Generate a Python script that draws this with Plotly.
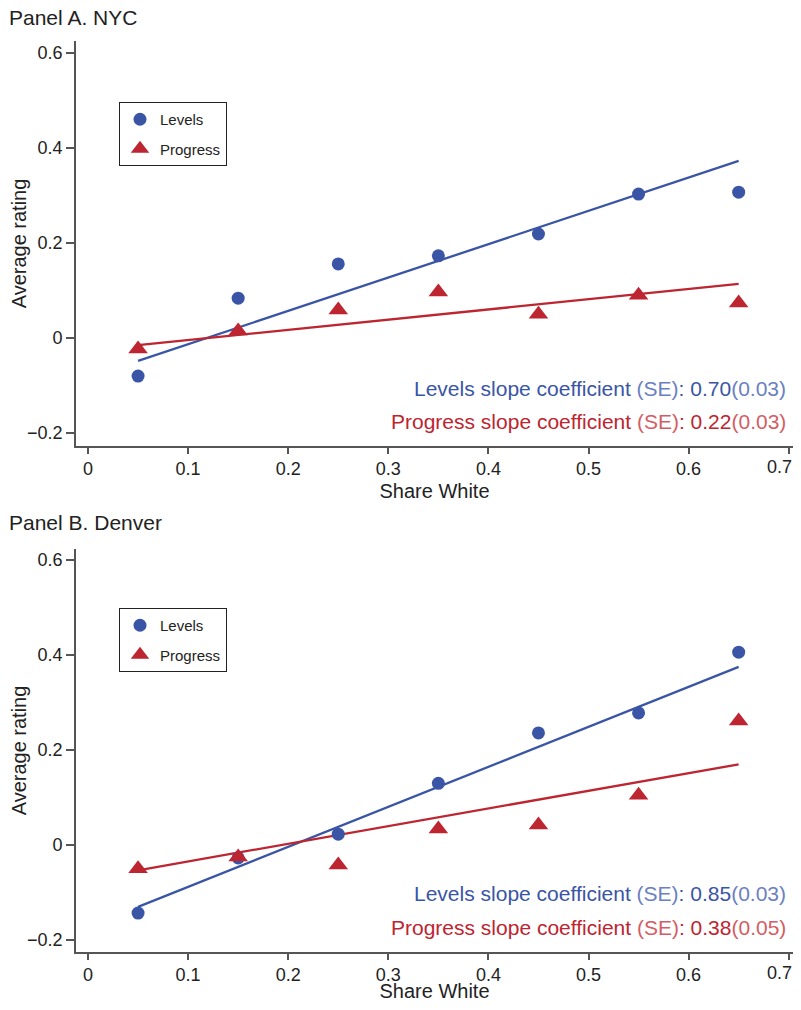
import plotly.graph_objects as go

share_white = [0.05, 0.15, 0.25, 0.35, 0.45, 0.55, 0.65]

nyc_levels = [-0.080, 0.084, 0.156, 0.173, 0.219, 0.303, 0.307]
nyc_progress = [-0.023, 0.015, 0.059, 0.097, 0.050, 0.090, 0.074]
nyc_levels_fit = [-0.048, 0.373]
nyc_progress_fit = [-0.015, 0.114]

den_levels = [-0.143, -0.027, 0.023, 0.130, 0.236, 0.278, 0.406]
den_progress = [-0.050, -0.025, -0.042, 0.034, 0.042, 0.105, 0.261]
den_levels_fit = [-0.130, 0.375]
den_progress_fit = [-0.053, 0.170]

fit_x = [0.05, 0.65]

x_ticks = [0, 0.1, 0.2, 0.3, 0.4, 0.5, 0.6, 0.7]
x_ticktext = ["0", "0.1", "0.2", "0.3", "0.4", "0.5", "0.6", ""]
x_last_label = "0.7"
y_ticks = [-0.2, 0, 0.2, 0.4, 0.6]
y_ticktext = ["\u22120.2", "0", "0.2", "0.4", "0.6"]

BLUE = "#3a55a6"
RED = "#bd2530"
BLUE_L = "#6a80c2"
RED_L = "#d45d64"
TXT = "#222222"
FONT = "Liberation Sans, Arial, Helvetica, sans-serif"

# The page puts the figure 8px in from the top-left corner (default body margin),
# and only ~793px of the width is visible, so the figure is sized to fit and
# page positions are shifted by 8px.
OFF = 8
W, H = 793 - OFF, 1010 - 2 * OFF
ML = 76 - OFF
PW = W - ML
X_RANGE = [-0.012, -0.012 + PW / 1001.0]


def pxx(px):
    return (px - OFF - ML) / PW


def pxy(py):
    return 1 - (py - OFF) / H


fig = go.Figure()

panels = [
    dict(xa="x", ya="y", lev=nyc_levels, pro=nyc_progress, lf=nyc_levels_fit, pf=nyc_progress_fit,
         legend="legend", slopes=("0.70", "0.03", "0.22", "0.03")),
    dict(xa="x2", ya="y2", lev=den_levels, pro=den_progress, lf=den_levels_fit, pf=den_progress_fit,
         legend="legend2", slopes=("0.85", "0.03", "0.38", "0.05")),
]

for i, p in enumerate(panels):
    fig.add_trace(go.Scatter(x=fit_x, y=p["lf"], mode="lines", line=dict(color=BLUE, width=2.3),
                             showlegend=False, xaxis=p["xa"], yaxis=p["ya"], hoverinfo="skip"))
    fig.add_trace(go.Scatter(x=fit_x, y=p["pf"], mode="lines", line=dict(color=RED, width=2.3),
                             showlegend=False, xaxis=p["xa"], yaxis=p["ya"], hoverinfo="skip"))
    fig.add_trace(go.Scatter(x=share_white, y=p["lev"], mode="markers", name="Levels",
                             marker=dict(symbol="circle", size=13, color=BLUE),
                             xaxis=p["xa"], yaxis=p["ya"], legend=p["legend"],
                             legendgroup=f"lev{i}"))
    fig.add_trace(go.Scatter(x=share_white, y=p["pro"], mode="markers", name="Progress",
                             marker=dict(symbol="triangle-up", size=17, color=RED),
                             xaxis=p["xa"], yaxis=p["ya"], legend=p["legend"],
                             legendgroup=f"pro{i}"))

axis_common = dict(showline=True, linecolor="#555555", linewidth=1.6, ticks="outside",
                   tickwidth=1.5, tickcolor="#555555", showgrid=False, zeroline=False,
                   automargin=False, ticklabeloverflow="allow",
                   tickfont=dict(family=FONT, size=18, color=TXT))

title_font = dict(size=20, family=FONT, color=TXT)
legend_common = dict(xanchor="left", yanchor="top", bordercolor=TXT, borderwidth=1,
                     bgcolor="white", font=dict(family=FONT, size=15, color=TXT),
                     tracegroupgap=7, itemwidth=30)

fig.update_layout(
    width=W, height=H, margin=dict(l=ML, r=0, t=0, b=0, autoexpand=False),
    paper_bgcolor="white", plot_bgcolor="white",
    font=dict(family=FONT, color=TXT),
    xaxis=dict(domain=[0, 1], range=X_RANGE, tickvals=x_ticks, ticktext=x_ticktext, ticklen=6,
               anchor="y", title=dict(text="Share White", font=title_font, standoff=6), **axis_common),
    yaxis=dict(domain=[pxy(446), pxy(41)], range=[-0.227, 0.625], ticklen=8,
               tickvals=y_ticks, ticktext=y_ticktext, anchor="x",
               title=dict(text="Average rating", font=title_font, standoff=9), **axis_common),
    xaxis2=dict(domain=[0, 1], range=X_RANGE, tickvals=x_ticks, ticktext=x_ticktext, ticklen=6,
                anchor="y2", title=dict(text="Share White", font=title_font, standoff=3), **axis_common),
    yaxis2=dict(domain=[pxy(952), pxy(549)], range=[-0.225, 0.623], ticklen=8,
                tickvals=y_ticks, ticktext=y_ticktext, anchor="x2",
                title=dict(text="Average rating", font=title_font, standoff=9), **axis_common),
    legend=dict(x=pxx(119), y=pxy(102), **legend_common),
    legend2=dict(x=pxx(119), y=pxy(608), **legend_common),
    showlegend=True,
)

annotations = [
    dict(text="Panel A. NYC", x=pxx(8), y=pxy(17), xref="paper", yref="paper",
         xanchor="left", yanchor="middle", showarrow=False, borderpad=0,
         font=dict(family=FONT, size=21, color=TXT)),
    dict(text="Panel B. Denver", x=pxx(8), y=pxy(522), xref="paper", yref="paper",
         xanchor="left", yanchor="middle", showarrow=False, borderpad=0,
         font=dict(family=FONT, size=21, color=TXT)),
]

for p, (ly1, ly2), tick_y in zip(panels, [(388, 422), (893, 927)], [467, 973]):
    a, ae, b, be = p["slopes"]
    annotations.append(dict(
        text=f"Levels slope coefficient <span style='color:{BLUE_L}'>(SE)</span>: {a}<span style='color:{BLUE_L}'>({ae})</span>",
        x=pxx(788), y=pxy(ly1), xref="paper", yref="paper", xanchor="right", yanchor="middle",
        showarrow=False, font=dict(family=FONT, size=21, color=BLUE)))
    annotations.append(dict(
        text=f"Progress slope coefficient <span style='color:{RED_L}'>(SE)</span>: {b}<span style='color:{RED_L}'>({be})</span>",
        x=pxx(788), y=pxy(ly2), xref="paper", yref="paper", xanchor="right", yanchor="middle",
        showarrow=False, font=dict(family=FONT, size=21, color=RED)))
    # last x tick label, kept inside the visible page edge
    annotations.append(dict(
        text=x_last_label, x=1, y=pxy(tick_y), xref="paper", yref="paper",
        xanchor="right", yanchor="middle", showarrow=False, borderpad=0,
        font=dict(family=FONT, size=18, color=TXT)))

fig.update_layout(annotations=annotations)
fig.write_html("out.html")
